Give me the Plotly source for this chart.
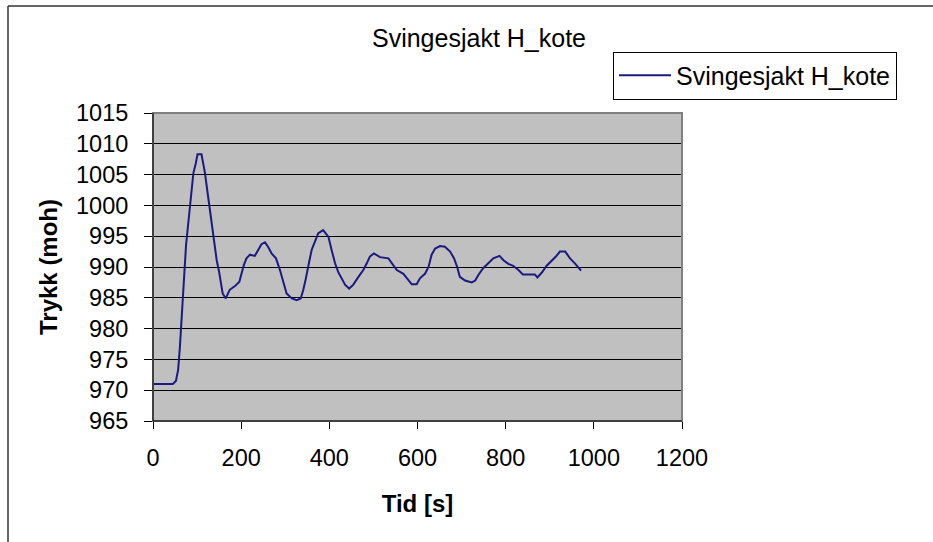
import plotly.graph_objects as go

# Surge shaft water level over time
time_s = [0, 45, 52, 57, 61, 66.6, 71, 75, 80, 84, 88, 91.5, 97, 101, 110, 114,
          118, 123, 128, 132, 135.5, 139, 144.5, 150, 153.5, 158, 165, 174, 186,
          196, 201, 206, 212, 220, 231, 239, 246, 254, 261, 269, 279, 288, 296,
          303, 315, 326, 335, 341, 346, 350, 355, 360, 375, 386, 398, 405, 413,
          420, 428, 436, 445, 454, 466, 477, 485, 492, 501, 515, 534, 545, 553,
          568, 576, 587, 598, 606, 617, 625, 632, 640, 651, 662, 674, 683, 690,
          696, 708, 723, 731, 738, 749, 761, 772, 786, 795, 806, 817, 829, 839,
          855, 866, 872, 882, 893, 903, 914, 923, 935, 946, 957, 971]
h_kote = [971.0, 971.0, 971.5, 973.3, 977.0, 984.2, 989.2, 993.6, 997.1, 1000.4,
          1003.0, 1005.2, 1006.8, 1008.3, 1008.3, 1006.8, 1005.2, 1002.5, 999.8,
          997.9, 995.5, 993.3, 991.1, 989.2, 987.4, 985.7, 984.9, 986.3, 986.9,
          987.6, 989.0, 990.3, 991.4, 992.0, 991.8, 992.8, 993.7, 994.0, 993.3,
          992.2, 991.4, 989.5, 987.6, 985.7, 984.9, 984.6, 984.9, 986.3, 987.9,
          989.5, 991.1, 992.8, 995.5, 996.0, 994.9, 992.8, 990.6, 989.2, 988.2,
          987.1, 986.5, 987.1, 988.4, 989.5, 990.6, 991.7, 992.2, 991.6, 991.4,
          990.3, 989.5, 988.9, 988.2, 987.2, 987.2, 988.2, 988.9, 990.0, 992.0,
          993.0, 993.4, 993.3, 992.5, 991.4, 990.0, 988.4, 987.8, 987.5, 987.8,
          988.7, 989.8, 990.7, 991.4, 991.8, 991.1, 990.5, 990.2, 989.5, 988.8,
          988.8, 988.8, 988.3, 989.1, 990.2, 990.9, 991.7, 992.5, 992.5, 991.4,
          990.6, 989.4]

x_ticks = [0, 200, 400, 600, 800, 1000, 1200]
y_ticks = [965, 970, 975, 980, 985, 990, 995, 1000, 1005, 1010, 1015]

FONT = "Liberation Sans, Arial, sans-serif"

fig = go.Figure()
fig.add_trace(go.Scatter(
    x=time_s, y=h_kote, mode="lines", name="Svingesjakt H_kote",
    line=dict(color="#1a1a80", width=2),
))

fig.update_layout(
    width=933, height=542,
    margin=dict(l=153, r=251, t=113, b=121),
    paper_bgcolor="white",
    plot_bgcolor="#c0c0c0",
    font=dict(family=FONT, color="black"),
    title=dict(text="Svingesjakt H_kote", x=479 / 933, xanchor="center",
               y=1 - 38 / 542, yanchor="middle",
               font=dict(size=25, family=FONT, color="black")),
    showlegend=True,
    legend=dict(x=(613 - 153) / 529, y=(421 - 75.5) / 308, xanchor="left", yanchor="middle",
                bgcolor="white", bordercolor="black", borderwidth=1,
                font=dict(size=25, family=FONT, color="black"),
                itemwidth=52, tracegroupgap=0),
)

fig.update_xaxes(
    range=[0, 1200], tickvals=x_ticks, ticktext=[str(v) for v in x_ticks],
    showgrid=False, zeroline=False, ticks="outside", ticklen=7, tickcolor="black",
    tickfont=dict(size=23.5, family=FONT), ticklabelstandoff=9,
    title=dict(text="<b>Tid [s]</b>", font=dict(size=24, family=FONT), standoff=24),
)
fig.update_yaxes(
    range=[965, 1015], tickvals=y_ticks, ticktext=[str(v) for v in y_ticks],
    showgrid=True, gridcolor="black", gridwidth=1, zeroline=False,
    ticks="outside", ticklen=8, tickcolor="black",
    tickfont=dict(size=23.5, family=FONT), ticklabelstandoff=11,
    title=dict(text="<b>Trykk (moh)</b>", font=dict(size=24, family=FONT), standoff=11),
)

# Plot-area frame, axis lines, and the outer chart border
fx0 = (8 - 153) / 529
fy1 = (421 - 6) / 308
fig.add_shape(type="rect", xref="paper", yref="paper", x0=0, y0=0, x1=1, y1=1,
              line=dict(color="#808080", width=2), layer="above")
fig.add_shape(type="line", xref="paper", yref="paper", x0=0, y0=0, x1=0, y1=1,
              line=dict(color="black", width=1), layer="above")
fig.add_shape(type="line", xref="paper", yref="paper", x0=0, y0=0, x1=1, y1=0,
              line=dict(color="black", width=1), layer="above")
fig.add_shape(type="line", xref="paper", yref="paper", x0=fx0, y0=-1, x1=fx0, y1=fy1,
              line=dict(color="#333333", width=1.5), layer="above")
fig.add_shape(type="line", xref="paper", yref="paper", x0=fx0, y0=fy1, x1=3, y1=fy1,
              line=dict(color="#333333", width=1.5), layer="above")

fig.write_html("out.html")
